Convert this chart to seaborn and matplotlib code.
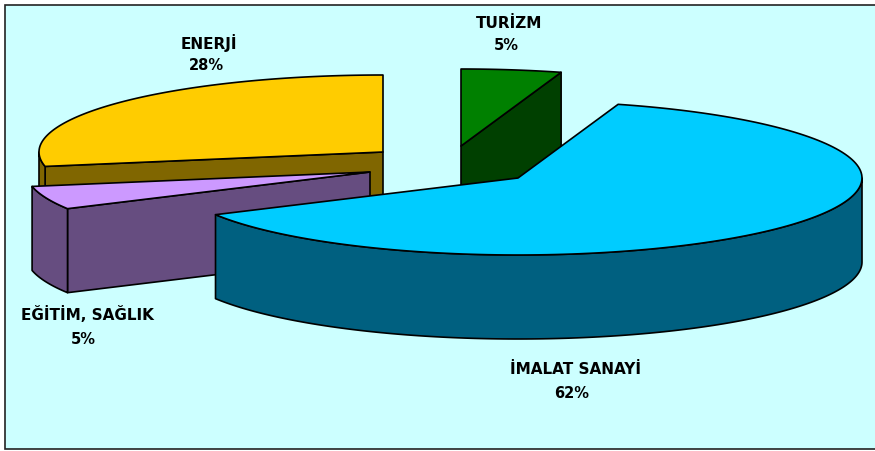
import numpy as np
import matplotlib
matplotlib.use("Agg")
import matplotlib.pyplot as plt
from matplotlib.patches import Polygon, Rectangle
import seaborn as sns

categories = ['ENERJİ', 'EĞİTİM, SAĞLIK', 'İMALAT SANAYİ', 'TURİZM']
# the labels show them rounded
values = [28, 4.9, 62.4, 4.7]
top_colors = ['#FFCC00', '#CC99FF', '#00CCFF', '#008000']
side_colors = ['#806600', '#664D80', '#006080', '#004000']

# slice apex in pixels (exploded pie), label centres
centers = [(383, 152), (370, 172), (518, 178), (461, 146)]
label_pos = [(209, 43), (87, 315), (575, 370), (509, 23)]
pct_pos = [(206, 66), (83, 339), (572, 394), (506, 46)]

RX, RY, DEPTH = 344, 77, 84

sns.set_theme(style='white')
plt.rcParams['font.family'] = ['DejaVu Sans']

fig, ax = plt.subplots(figsize=(8.75, 4.51), dpi=100)
fig.subplots_adjust(0, 0, 1, 1)
ax.set_xlim(0, 875)
ax.set_ylim(451, 0)
ax.axis('off')
ax.add_patch(Rectangle((5, 5), 880, 444, fc='#CCFFFF', ec='#222222', lw=1.2))

# angles go counter clockwise from 90 deg, in the order of values
edges = 90 + np.cumsum([0] + values) * 3.6


def point(c, ang, dz=0):
    a = np.radians(ang)
    return c[0] + RX * np.cos(a), c[1] - RY * np.sin(a) + dz


def arc(c, a0, a1, dz=0):
    t = np.linspace(a0, a1, 160)
    x, y = point(c, t, dz)
    return np.column_stack([x, y])


def face(pts, color, z):
    ax.add_patch(Polygon(pts, closed=True, fc=color, ec='black', lw=1.2, joinstyle='round', zorder=z))


# painter order: enerji, turizm, egitim, imalat
for z, i in enumerate([0, 3, 1, 2]):
    c = centers[i]
    a0, a1 = edges[i], edges[i + 1]
    base = z * 10 + 2

    # cut faces, only the ones turned to the viewer
    for ang, front in [(a0, np.cos(np.radians(a0)) > 0.01 and a0 > 360), (a1, 180 < a1 < 270)]:
        if front:
            p = point(c, ang)
            face([c, p, (p[0], p[1] + DEPTH), (c[0], c[1] + DEPTH)], side_colors[i], base)

    # outer rim, the part of the arc in the lower half of the ellipse
    lo, hi = max(a0, 180), min(a1, 360)
    if hi > lo:
        face(np.vstack([arc(c, lo, hi), arc(c, hi, lo, DEPTH)]), side_colors[i], base + 1)

    face(np.vstack([[c], arc(c, a0, a1)]), top_colors[i], base + 2)

for name, val, (x, y), (px, py) in zip(categories, values, label_pos, pct_pos):
    ax.text(x, y, name, ha='center', va='center', fontsize=11, fontweight='bold', color='black', zorder=60)
    ax.text(px, py, f'{val:.0f}%', ha='center', va='center', fontsize=10.5, fontweight='bold', color='black', zorder=60)

fig.savefig('out.png', dpi=100, facecolor='white')
